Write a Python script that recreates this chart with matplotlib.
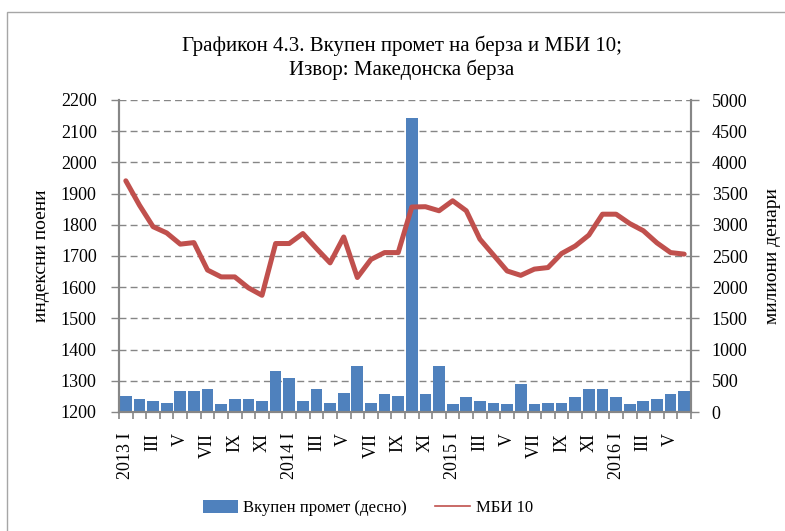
import matplotlib
matplotlib.use("Agg")
import matplotlib.pyplot as plt
from matplotlib.patches import Rectangle, Patch
from matplotlib.lines import Line2D
import numpy as np

plt.rcParams['font.family'] = ['Liberation Serif', 'DejaVu Serif']

BLUE = '#4F81BD'
RED = '#C0504D'
GRID = '#868686'

# monthly data, 2013 I - 2016 VI
mbi10 = [1941, 1863, 1794, 1774, 1738, 1743, 1655, 1633, 1633, 1598, 1574, 1740,
         1740, 1772, 1724, 1678, 1761, 1631, 1689, 1711, 1711, 1857, 1858, 1845,
         1877, 1845, 1754, 1703, 1652, 1638, 1658, 1663, 1708, 1732, 1767, 1834,
         1834, 1804, 1781, 1742, 1711, 1706]
turnover = [251, 203, 171, 139, 332, 332, 364, 123, 203, 203, 171, 652,
            540, 171, 364, 139, 300, 733, 139, 283, 251, 4711, 283, 733,
            123, 235, 171, 139, 123, 444, 123, 139, 139, 235, 364, 364,
            235, 123, 171, 203, 283, 332]
month_labels = ['2013 I', '', 'III', '', 'V', '', 'VII', '', 'IX', '', 'XI', '',
                '2014 I', '', 'III', '', 'V', '', 'VII', '', 'IX', '', 'XI', '',
                '2015 I', '', 'III', '', 'V', '', 'VII', '', 'IX', '', 'XI', '',
                '2016 I', '', 'III', '', 'V', '']

title = 'Графикон 4.3. Вкупен промет на берза и МБИ 10;\nИзвор: Македонска берза'

W, H = 785, 531
fig = plt.figure(figsize=(W / 100, H / 100), dpi=100)

# outer frame (left and top edges visible)
fig.patches.append(Rectangle((7 / W, 0 - 0.1), 1.2, (H - 12) / H + 0.1,
                             transform=fig.transFigure, fill=False,
                             edgecolor='#A6A6A6', linewidth=1.0))

ax = fig.add_axes([119 / W, (H - 412) / H, (691 - 119) / W, (412 - 100) / H])
ax2 = ax.twinx()

x = np.arange(len(mbi10))

ax2.bar(x, turnover, width=0.86, color=BLUE, zorder=2)
ax.plot(x, mbi10, color=RED, linewidth=3.6, solid_capstyle='round', zorder=3)

# line on top of bars
ax.set_zorder(ax2.get_zorder() + 1)
ax.patch.set_visible(False)

ax.set_ylim(1200, 2200)
ax.set_yticks(range(1200, 2201, 100))
ax2.set_ylim(0, 5000)
ax2.set_yticks(range(0, 5001, 500))
ax.set_xlim(-0.5, len(mbi10) - 0.5)

# dashed gridlines
for v in range(1300, 2201, 100):
    ax2.axhline((v - 1200) * 5, color=GRID, linewidth=1.0,
                linestyle=(0, (5, 3)), zorder=1)

ax.set_xticks(x)
ax.set_xticklabels(month_labels, rotation=90, fontsize=13)
ax.set_xticks(np.arange(-0.5, len(mbi10)), minor=True)
ax.tick_params(axis='x', which='major', length=0, pad=15)
ax.tick_params(axis='x', which='minor', length=5, color=GRID, width=1.2)

for a in (ax, ax2):
    for s in a.spines.values():
        s.set_color(GRID)
        s.set_linewidth(1.5)
    a.spines['top'].set_visible(False)
ax.tick_params(axis='y', length=6, color=GRID, width=1.0, labelsize=13, pad=10)
ax2.tick_params(axis='y', length=6, color=GRID, width=1.0, labelsize=13, pad=9)

ax.set_ylabel('индексни поени', fontsize=14, labelpad=8)
ax2.set_ylabel('милиони денари', fontsize=14, labelpad=12)

fig.text(402 / W, 1 - 58 / H, title, ha='center', va='center', fontsize=15,
         linespacing=1.25)

handles = [Patch(facecolor=BLUE, edgecolor='none'),
           Line2D([], [], color=RED, linewidth=1.2)]
fig.legend(handles, ['Вкупен промет (десно)', 'МБИ 10'], loc='center',
           bbox_to_anchor=(368 / W, 1 - 508 / H), ncol=2, frameon=False,
           fontsize=12, handlelength=2.1, handleheight=0.8,
           handletextpad=0.35, columnspacing=1.7)

fig.savefig('out.png', dpi=100)
